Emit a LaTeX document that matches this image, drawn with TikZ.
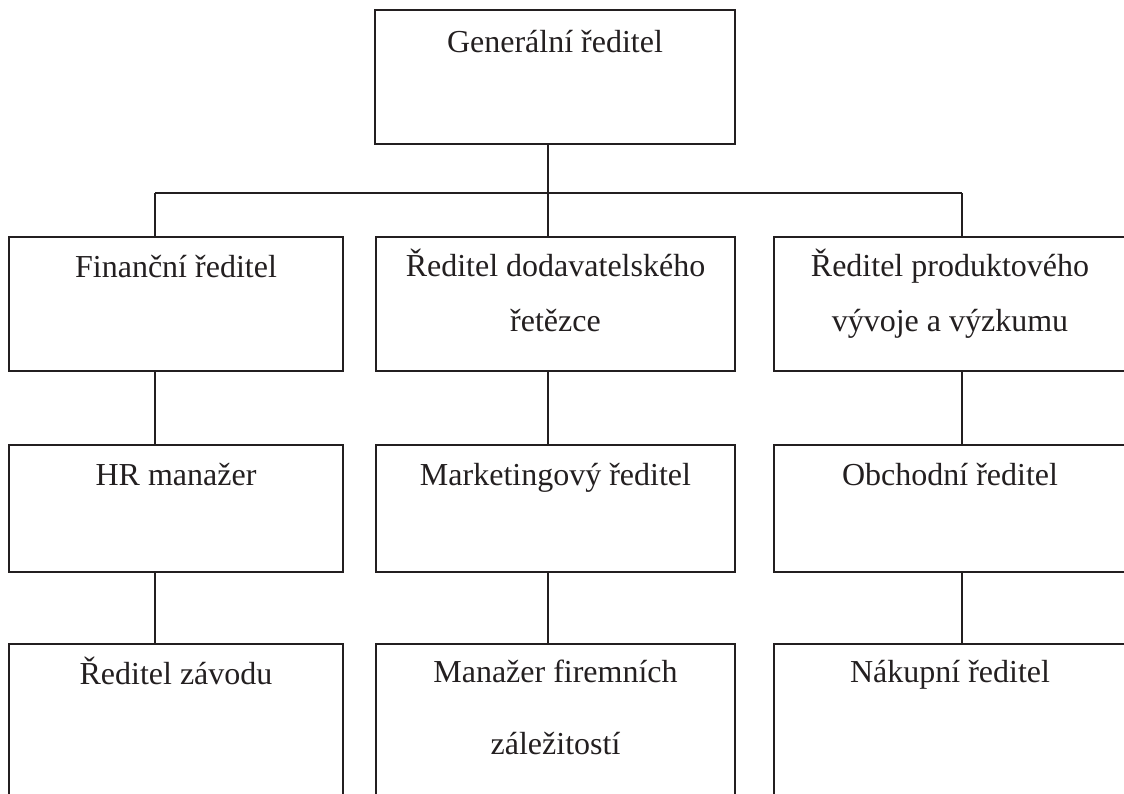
\documentclass[tikz,border=0pt]{standalone}
\usepackage{fontspec}
\setmainfont{Liberation Serif}
\definecolor{ink}{HTML}{231F20}
\tikzset{
  orgbox/.style={draw=ink, line width=2pt, rectangle, inner sep=0pt},
  orgtext/.style={anchor=base, inner sep=0pt, text=ink, align=center,
    font=\fontsize{32}{55.5}\selectfont},
  link/.style={draw=ink, line width=2pt},
}
\begin{document}
\begin{tikzpicture}[x=1pt, y=-1pt]
  \useasboundingbox (0,0) rectangle (1124,793);
  \clip (0,0) rectangle (1124,793);

  % boxes: top, then three columns of three levels
  \node[orgbox, minimum width=360pt, minimum height=134pt] (gr)  at (555,77)    {};
  \node[orgbox, minimum width=334pt, minimum height=134pt] (fin) at (176,304)   {};
  \node[orgbox, minimum width=359pt, minimum height=134pt] (dod) at (555.5,304) {};
  \node[orgbox, minimum width=352pt, minimum height=134pt] (vyv) at (950,304)   {};
  \node[orgbox, minimum width=334pt, minimum height=127pt] (hr)  at (176,508.5)   {};
  \node[orgbox, minimum width=359pt, minimum height=127pt] (mkt) at (555.5,508.5) {};
  \node[orgbox, minimum width=352pt, minimum height=127pt] (obc) at (950,508.5)   {};
  \node[orgbox, minimum width=334pt, minimum height=200pt] (zav) at (176,744)   {};
  \node[orgbox, minimum width=359pt, minimum height=200pt] (fir) at (555.5,744) {};
  \node[orgbox, minimum width=352pt, minimum height=200pt] (nak) at (950,744)   {};

  % labels (base anchor sits on the last line of a multi-line label)
  \node[orgtext] (gr-t)  at ([yshift=-43pt]gr.north)  {Generální ředitel};
  \node[orgtext] (fin-t) at ([yshift=-41pt]fin.north) {Finanční ředitel};
  \node[orgtext] (dod-t) at ([yshift=-95.5pt]dod.north) {Ředitel dodavatelského\\řetězce};
  \node[orgtext] (vyv-t) at ([yshift=-95.5pt]vyv.north) {Ředitel produktového\\vývoje a výzkumu};
  \node[orgtext] (hr-t)  at ([yshift=-41pt]hr.north)  {HR manažer};
  \node[orgtext] (mkt-t) at ([yshift=-41pt]mkt.north) {Marketingový ředitel};
  \node[orgtext] (obc-t) at ([yshift=-41pt]obc.north) {Obchodní ředitel};
  \node[orgtext] (zav-t) at ([yshift=-41pt]zav.north) {Ředitel závodu};
  \node[orgtext, font=\fontsize{32}{72}\selectfont] (fir-t) at ([yshift=-111pt]fir.north) {Manažer firemních\\záležitostí};
  \node[orgtext] (nak-t) at ([yshift=-39pt]nak.north) {Nákupní ředitel};

  % connector points on the horizontal bus
  \coordinate (bus-l) at (155,193);
  \coordinate (bus-m) at (548,193);
  \coordinate (bus-r) at (962,193);

  \draw[link] (gr.south -| bus-m) -- (bus-m);
  \draw[link] (bus-l) -- (bus-r);
  \draw[link] (bus-l) -- (fin.north -| bus-l);
  \draw[link] (bus-m) -- (dod.north -| bus-m);
  \draw[link] (bus-r) -- (vyv.north -| bus-r);

  \draw[link] (fin.south -| bus-l) -- (hr.north -| bus-l);
  \draw[link] (dod.south -| bus-m) -- (mkt.north -| bus-m);
  \draw[link] (vyv.south -| bus-r) -- (obc.north -| bus-r);

  \draw[link] (hr.south -| bus-l)  -- (zav.north -| bus-l);
  \draw[link] (mkt.south -| bus-m) -- (fir.north -| bus-m);
  \draw[link] (obc.south -| bus-r) -- (nak.north -| bus-r);
\end{tikzpicture}
\end{document}
